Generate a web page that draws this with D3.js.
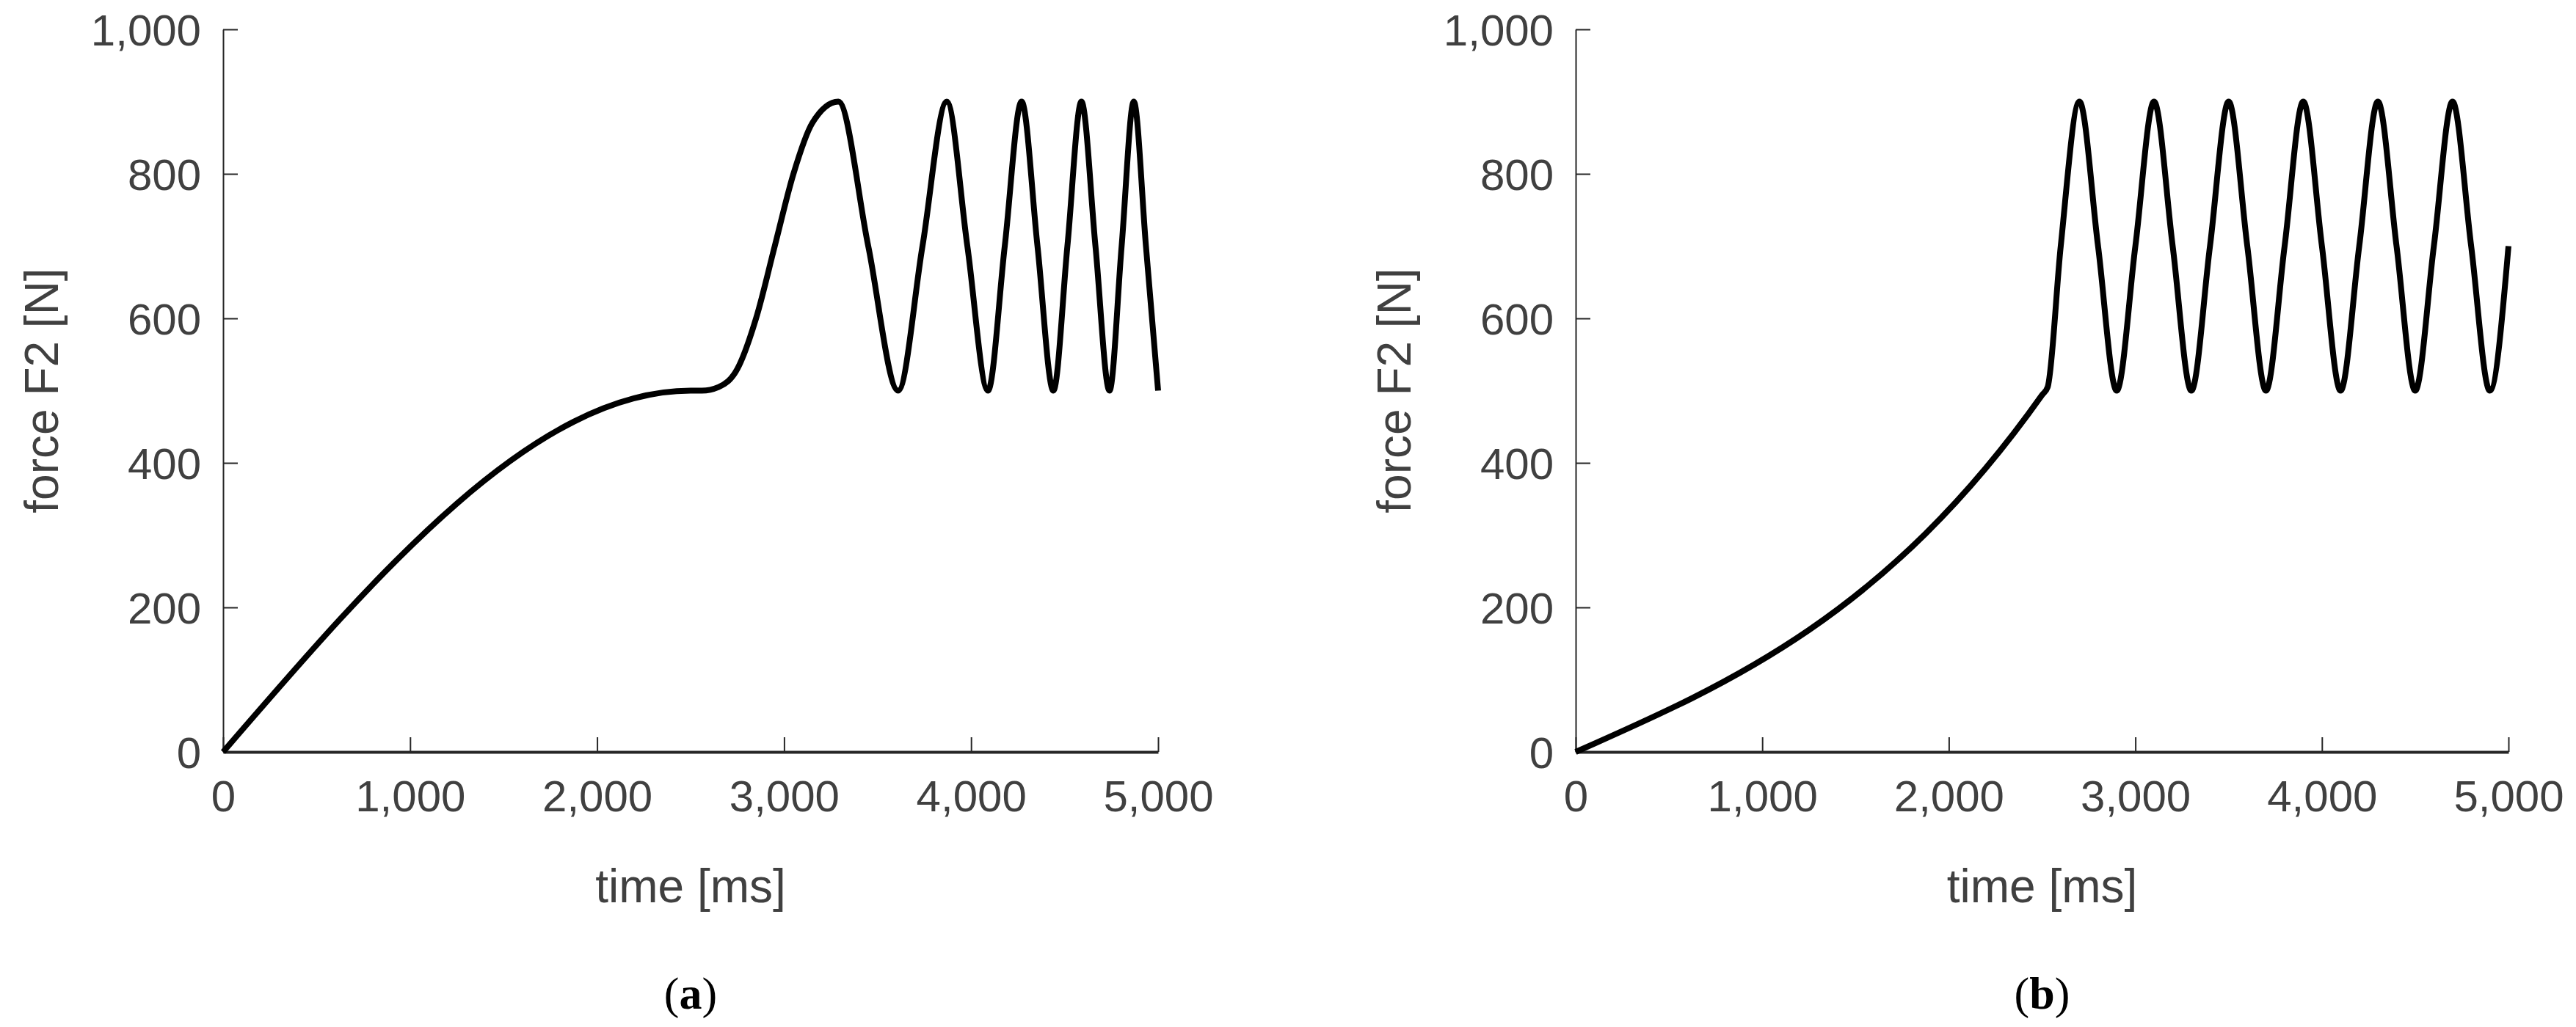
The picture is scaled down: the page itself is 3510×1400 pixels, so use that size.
<!DOCTYPE html>
<html>
<head>
<meta charset="utf-8">
<script src="https://cdn.jsdelivr.net/npm/d3@7"></script>
<style>
  body { margin: 0; background: #fff; }
  text { font-family: Arial, "Liberation Sans", sans-serif; }
</style>
</head>
<body>
<div id="wrapper"></div>
<script>
// panel (a): ramp, then a chirp between 500 and 900 N
const timeA  = [0, 2500, 2560, 2650, 2750, 2850, 2950, 3050, 3150, 3290, 3450, 3610, 3740, 3870, 3980, 4090, 4180, 4270, 4355, 4440, 4515, 4590, 4665, 4740, 4805, 4870, 4935, 5000];
const forceA = [0, 500,  500,  505,  530,  600,  700,  800,  870,  900,  700,  500,  700,  900,  700,  500,  700,  900,  700,  500,  700,  900,  700,  500,  700,  900,  700,  500];
// panel (b): ramp, then constant-period oscillation
const timeB  = [0, 2500, 2530, 2600, 2700, 2800, 2900, 3000, 3100, 3200, 3300, 3400, 3500, 3600, 3700, 3800, 3900, 4000, 4100, 4200, 4300, 4400, 4500, 4600, 4700, 4800, 4900, 5000];
const forceB = [0, 494,  505,  700,  900,  700,  500,  700,  900,  700,  500,  700,  900,  700,  500,  700,  900,  700,  500,  700,  900,  700,  500,  700,  900,  700,  500,  700];
const xTicks = [0, 1000, 2000, 3000, 4000, 5000];
const yTicks = [0, 200, 400, 600, 800, 1000];
const xLabel = "time [ms]";
const yLabel = "force F2 [N]";
const captions = ["a", "b"];

const svg = d3.select("#wrapper").append("svg")
    .attr("width", 3510).attr("height", 1400);

const panels = [
    {left: 304, right: 1578, t: timeA, f: forceA, cap: captions[0]},
    {left: 2147, right: 3418, t: timeB, f: forceB, cap: captions[1]},
];
const plotTop = 40, plotBottom = 1025;
const grey = "#404040";

panels.forEach(p => {
    const x = d3.scaleLinear().domain([0, 5000]).range([p.left, p.right]);
    const y = d3.scaleLinear().domain([0, 1000]).range([plotBottom, plotTop]);
    const g = svg.append("g");

    // axes (MATLAB style, ticks inward)
    const xAxis = g.append("g").attr("transform", `translate(0,${plotBottom})`)
        .call(d3.axisBottom(x).tickValues(xTicks).tickSizeInner(-20).tickSizeOuter(0).tickPadding(38));
    const yAxis = g.append("g").attr("transform", `translate(${p.left},0)`)
        .call(d3.axisLeft(y).tickValues(yTicks).tickSizeInner(-20).tickSizeOuter(0).tickPadding(30));
    [xAxis, yAxis].forEach(a => {
        a.selectAll("path").attr("stroke", "#262626").attr("stroke-width", 2);
        a.selectAll("line").attr("stroke", "#262626").attr("stroke-width", 2);
        a.selectAll("text").attr("fill", grey).style("font-size", "60px")
            .style("font-family", "Arial, 'Liberation Sans', sans-serif");
    });
    xAxis.select(".domain").attr("stroke-width", 4);
    yAxis.selectAll(".tick text").attr("dy", "0.35em");

    g.append("text").attr("x", (p.left + p.right) / 2).attr("y", 1230)
        .attr("text-anchor", "middle").attr("fill", grey).style("font-size", "64px").text(xLabel);
    g.append("text").attr("transform", `translate(${p.left - 225},${(plotTop + plotBottom) / 2}) rotate(-90)`)
        .attr("text-anchor", "middle").attr("fill", grey).style("font-size", "64px").text(yLabel);

    const line = d3.line().x((d, i) => x(p.t[i])).y(d => y(d)).curve(d3.curveMonotoneX);
    g.append("path").datum(p.f).attr("d", line)
        .attr("fill", "none").attr("stroke", "#000").attr("stroke-width", 8);

    const cap = g.append("text").attr("x", (p.left + p.right) / 2).attr("y", 1375)
        .attr("text-anchor", "middle").style("font-family", "'Liberation Serif', 'DejaVu Serif', serif")
        .style("font-size", "62px");
    cap.append("tspan").text("(");
    cap.append("tspan").attr("font-weight", "bold").text(p.cap);
    cap.append("tspan").text(")");
});
</script>
</body>
</html>
